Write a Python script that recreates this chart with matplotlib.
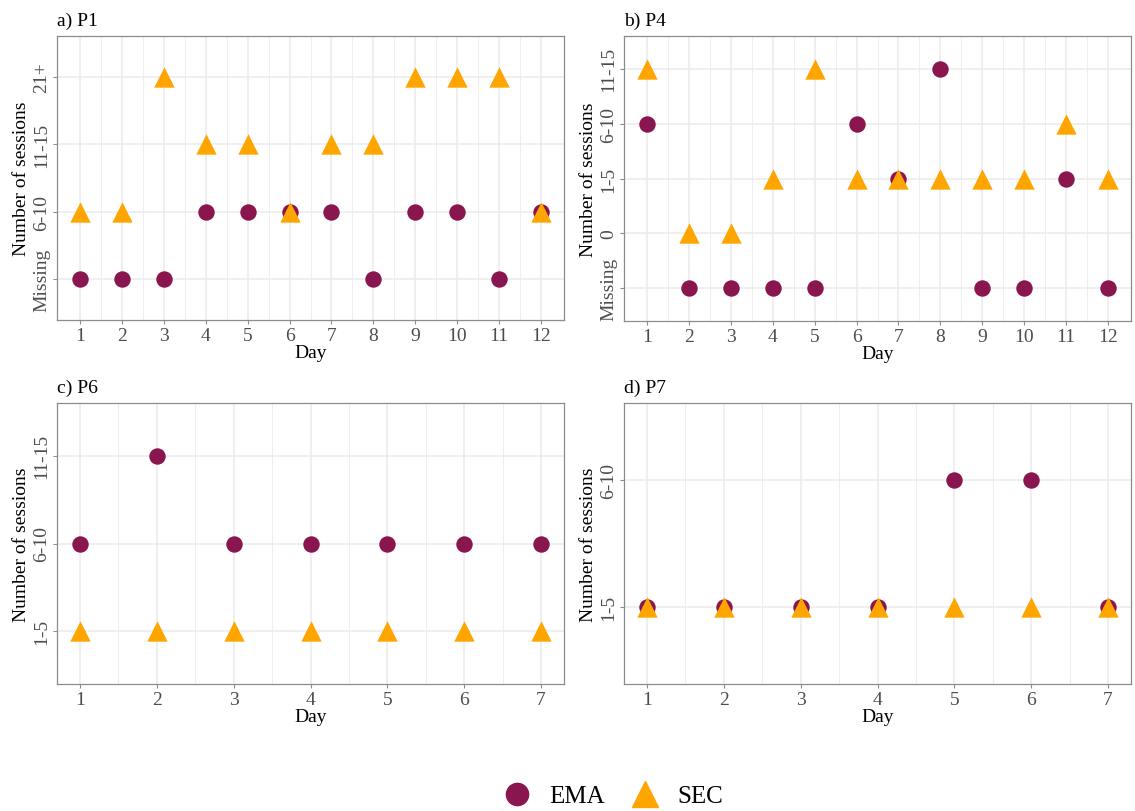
import matplotlib
matplotlib.use("Agg")
import matplotlib.pyplot as plt
from matplotlib.lines import Line2D
import numpy as np

plt.rcParams['font.family'] = ['Liberation Serif', 'DejaVu Serif']

# ---- data ----
days_p1 = list(range(1, 13))
cats_p1 = ['Missing', '6-10', '11-15', '21+']
ema_p1 = ['Missing', 'Missing', 'Missing', '6-10', '6-10', '6-10', '6-10', 'Missing', '6-10', '6-10', 'Missing', '6-10']
sec_p1 = ['6-10', '6-10', '21+', '11-15', '11-15', '6-10', '11-15', '11-15', '21+', '21+', '21+', '6-10']

days_p4 = list(range(1, 13))
cats_p4 = ['Missing', '0', '1-5', '6-10', '11-15']
ema_p4 = ['6-10', 'Missing', 'Missing', 'Missing', 'Missing', '6-10', '1-5', '11-15', 'Missing', 'Missing', '1-5', 'Missing']
sec_p4 = ['11-15', '0', '0', '1-5', '11-15', '1-5', '1-5', '1-5', '1-5', '1-5', '6-10', '1-5']

days_p6 = list(range(1, 8))
cats_p6 = ['1-5', '6-10', '11-15']
ema_p6 = ['6-10', '11-15', '6-10', '6-10', '6-10', '6-10', '6-10']
sec_p6 = ['1-5'] * 7

days_p7 = list(range(1, 8))
cats_p7 = ['1-5', '6-10']
ema_p7 = ['1-5', '1-5', '1-5', '1-5', '6-10', '6-10', '1-5']
sec_p7 = ['1-5'] * 7

panels = [
    ('a) P1', days_p1, cats_p1, ema_p1, sec_p1),
    ('b) P4', days_p4, cats_p4, ema_p4, sec_p4),
    ('c) P6', days_p6, cats_p6, ema_p6, sec_p6),
    ('d) P7', days_p7, cats_p7, ema_p7, sec_p7),
]

EMA_COL = '#8A1650'
SEC_COL = '#FFA500'
GRID = '#EBEBEB'
BORDER = '#8C8C8C'
TICKCOL = '#4D4D4D'

W, H = 1135, 812
fig = plt.figure(figsize=(W / 100, H / 100), dpi=100)

# axes boxes in pixels: left, right, top, bottom
boxes = [(57, 564, 37, 321), (624, 1131, 37, 322), (57, 564, 404, 685), (624, 1131, 404, 685)]

for (title, days, cats, ema, sec), (l, r, t, b) in zip(panels, boxes):
    ax = fig.add_axes([l / W, 1 - b / H, (r - l) / W, (b - t) / H])
    ymap = {c: i + 1 for i, c in enumerate(cats)}
    span = days[-1] - days[0]
    ax.set_xlim(days[0] - 0.05 * span, days[-1] + 0.05 * span)
    ax.set_ylim(0.4, len(cats) + 0.6)

    # grid: major on each day/category, minor between days
    for d in days:
        ax.axvline(d, color=GRID, lw=1.1, zorder=0)
    for d in days[:-1]:
        ax.axvline(d + 0.5, color=GRID, lw=0.6, zorder=0)
    for i in range(1, len(cats) + 1):
        ax.axhline(i, color=GRID, lw=1.1, zorder=0)

    ax.scatter(days, [ymap[v] for v in ema], s=140, color=EMA_COL, marker='o', lw=0, zorder=3)
    ax.scatter(days, [ymap[v] for v in sec], s=215, color=SEC_COL, marker='^', lw=0, zorder=4)

    ax.set_xticks(days)
    ax.set_yticks(range(1, len(cats) + 1))
    ax.set_yticklabels(cats, rotation=90, va='center')
    ax.tick_params(colors=BORDER, labelcolor=TICKCOL, labelsize=14, length=3, width=0.8, pad=2)
    for s in ax.spines.values():
        s.set_color(BORDER)
        s.set_linewidth(0.9)
    ax.set_xlabel('Day', fontsize=14, labelpad=0)
    ax.set_ylabel('Number of sessions', fontsize=14, labelpad=2)
    ax.set_title(title, loc='left', fontsize=14, pad=8)

handles = [
    Line2D([], [], marker='o', color=EMA_COL, lw=0, markersize=16, label='EMA'),
    Line2D([], [], marker='^', color=SEC_COL, lw=0, markersize=19, label='SEC'),
]
fig.legend(handles=handles, loc='center', bbox_to_anchor=(0.535, 1 - 797 / H), ncol=2,
           frameon=False, fontsize=18, handletextpad=0.3, columnspacing=0.6)

fig.savefig('out.png', dpi=100, facecolor='white')
